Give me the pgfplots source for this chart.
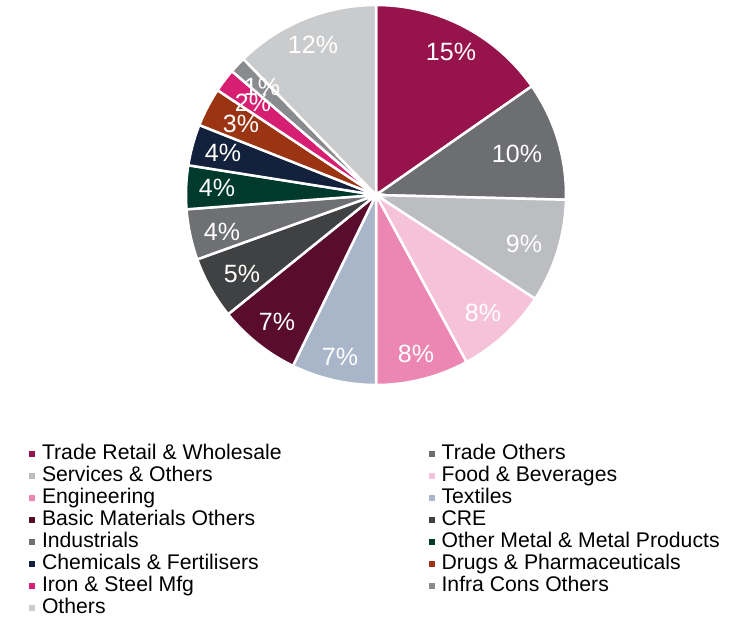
\documentclass[border=0pt]{standalone}
\usepackage{pgfplots}
\usepackage{pgfplotstable}
\pgfplotsset{compat=1.18}
\usepackage{fontspec}
\setmainfont{Liberation Sans}
\definecolor{slice0}{HTML}{96144B}
\definecolor{slice1}{HTML}{6D6E71}
\definecolor{slice2}{HTML}{BCBDC0}
\definecolor{slice3}{HTML}{F6C2D9}
\definecolor{slice4}{HTML}{EC87B3}
\definecolor{slice5}{HTML}{A9B5C9}
\definecolor{slice6}{HTML}{5A0C2F}
\definecolor{slice7}{HTML}{404143}
\definecolor{slice8}{HTML}{6E7073}
\definecolor{slice9}{HTML}{003A2C}
\definecolor{slice10}{HTML}{13213D}
\definecolor{slice11}{HTML}{9A3412}
\definecolor{slice12}{HTML}{D61F73}
\definecolor{slice13}{HTML}{8A8B8E}
\definecolor{slice14}{HTML}{CACBCD}
\pgfplotstableread{
value
15.3
10.1
8.8
7.9
7.9
7.2
7.0
5.3
4.3
3.7
3.5
3.3
2.0
1.4
12.3
}\piedata
\begin{document}
\begin{tikzpicture}
\useasboundingbox (0,0) rectangle (749bp,619bp);
\pgfplotstablecreatecol[create col/expr accum={\pgfmathaccuma + \thisrow{value}}{0}]{cum}\piedata
\pgfplotsforeachungrouped \i in {0,...,14} {%
  \pgfplotstablegetelem{\i}{cum}\of\piedata
  \pgfmathsetmacro\tmpE{3.6*\pgfplotsretval}%
  \pgfplotstablegetelem{\i}{value}\of\piedata
  \pgfmathsetmacro\tmpS{\tmpE-3.6*\pgfplotsretval}%
  \expandafter\xdef\csname pieS\i\endcsname{\tmpS}%
  \expandafter\xdef\csname pieE\i\endcsname{\tmpE}%
}
\begin{axis}[
  at={(0,0)}, anchor=south west,
  hide axis, scale only axis, width=749bp, height=619bp,
  xmin=0, xmax=749, ymin=0, ymax=619, y dir=reverse, clip=false,
  legend columns=2, legend cell align=left,
  legend image code/.code={\fill[draw=none] (0bp,-3bp) rectangle (6bp,3bp);},
  legend style={draw=none, fill=none, at={(axis cs:29,445)}, anchor=north west,
    font=\fontsize{21.2bp}{22bp}\selectfont, inner sep=0pt, outer sep=0pt,
    nodes={inner sep=0pt, text height=14bp, text depth=4bp},
    row sep=4bp,
    /tikz/every odd column/.append style={column sep=7bp},
    /tikz/every even column/.append style={column sep=147bp}},
  legend entries={Trade Retail \& Wholesale, Trade Others, Services \& Others, Food \& Beverages, Engineering, Textiles, Basic Materials Others, CRE, Industrials, Other Metal \& Metal Products, Chemicals \& Fertilisers, Drugs \& Pharmaceuticals, Iron \& Steel Mfg, Infra Cons Others, Others},
]
\pgfplotsinvokeforeach{0,...,14}{
  \edef\temp{\noexpand\addplot[fill=slice#1, draw=white, line width=2.5bp, domain=\csname pieS#1\endcsname:\csname pieE#1\endcsname, samples=60]}
  \temp ({376+190*sin(x)},{195-190*cos(x)}) -- (axis cs:376,195) -- cycle;
}
\begin{scope}[every node/.style={text=white, font=\fontsize{25bp}{28bp}\selectfont}]
\node at (axis cs:451,52) {15\%};
\node at (axis cs:517,154) {10\%};
\node at (axis cs:524,244) {9\%};
\node at (axis cs:483,313) {8\%};
\node at (axis cs:416,354) {8\%};
\node at (axis cs:340,357) {7\%};
\node at (axis cs:277,322) {7\%};
\node at (axis cs:242,274) {5\%};
\node at (axis cs:222,232) {4\%};
\node at (axis cs:217,188) {4\%};
\node at (axis cs:223,153) {4\%};
\node at (axis cs:241,124) {3\%};
\node at (axis cs:253,103) {2\%};
\node at (axis cs:262,87) {1\%};
\node at (axis cs:313,45) {12\%};
\end{scope}
\end{axis}
\end{tikzpicture}
\end{document}
